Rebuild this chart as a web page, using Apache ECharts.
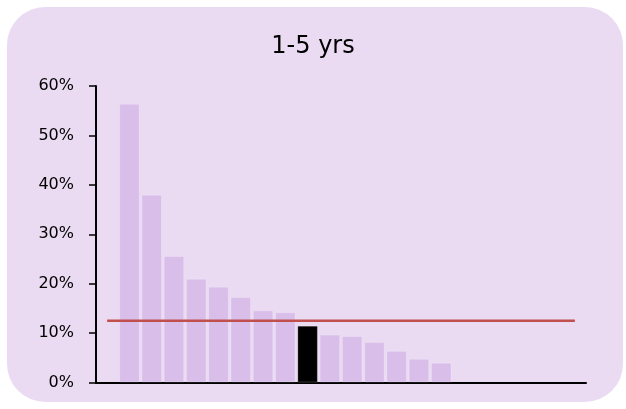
<!DOCTYPE html>
<html>
<head>
<meta charset="utf-8">
<script src="https://cdn.jsdelivr.net/npm/echarts@6/dist/echarts.min.js"></script>
<style>
html,body{margin:0;padding:0;background:#ffffff;}
#c{width:626px;height:409px;}
</style>
</head>
<body>
<div id="c"></div>
<script>
// ---- data ----
const titleText = '1-5 yrs';
const categories = ['c0','c1','c2','c3','c4','c5','c6','c7','c8','c9','c10','c11','c12','c13','c14','c15','c16','c17','c18','c19','c20','c21'];
const values = [null, 56.4, 38.0, 25.6, 21.0, 19.4, 17.3, 14.6, 14.2, 11.5, 9.7, 9.4, 8.2, 6.4, 4.8, 4.0, null, null, null, null, null, null];
const highlightIndex = 9;
const benchmark = 12.5;
const yTicks = [0, 10, 20, 30, 40, 50, 60];

// ---- styles ----
const FONT = 'DejaVu Sans';
const barColor = '#D9BEEA';
const highlightColor = '#000000';
const lineColor = '#C0504D';

const chart = echarts.init(document.getElementById('c'), null, {renderer: 'canvas'});
const barData = values.map((v, i) => ({
  value: v,
  itemStyle: { color: i === highlightIndex ? highlightColor : barColor }
}));
const lineData = categories.map(() => benchmark);

chart.setOption({
  animation: false,
  backgroundColor: '#ffffff',
  graphic: [{
    type: 'rect', z: -10, silent: true,
    shape: { x: 7, y: 7, width: 616, height: 395, r: 38 },
    style: { fill: '#EADBF3' }
  }],
  title: {
    text: titleText, left: 'center', top: 30,
    textStyle: { fontFamily: FONT, fontSize: 24, fontWeight: 'normal', color: '#000' }
  },
  grid: { left: 96, right: 40, top: 86, bottom: 26.5, containLabel: false },
  xAxis: {
    type: 'category', data: categories, boundaryGap: true,
    axisLine: { show: true, lineStyle: { color: '#000', width: 2 } },
    axisTick: { show: false }, axisLabel: { show: false }, splitLine: { show: false }
  },
  yAxis: {
    type: 'value', min: yTicks[0], max: yTicks[yTicks.length - 1], interval: 10,
    axisLine: { show: true, lineStyle: { color: '#000', width: 2 } },
    axisTick: { show: true, length: 7, lineStyle: { color: '#000', width: 1.5 } },
    axisLabel: { formatter: '{value}%', fontFamily: FONT, fontSize: 16, color: '#000', margin: 22 },
    splitLine: { show: false }
  },
  series: [
    {
      type: 'bar', data: barData, barCategoryGap: '8%',
      itemStyle: { borderColor: 'rgba(255,255,255,0.2)', borderWidth: 1 }
    },
    {
      type: 'line', data: lineData, symbol: 'none',
      lineStyle: { color: lineColor, width: 2.5 }, z: 5
    }
  ]
});
</script>
</body>
</html>
